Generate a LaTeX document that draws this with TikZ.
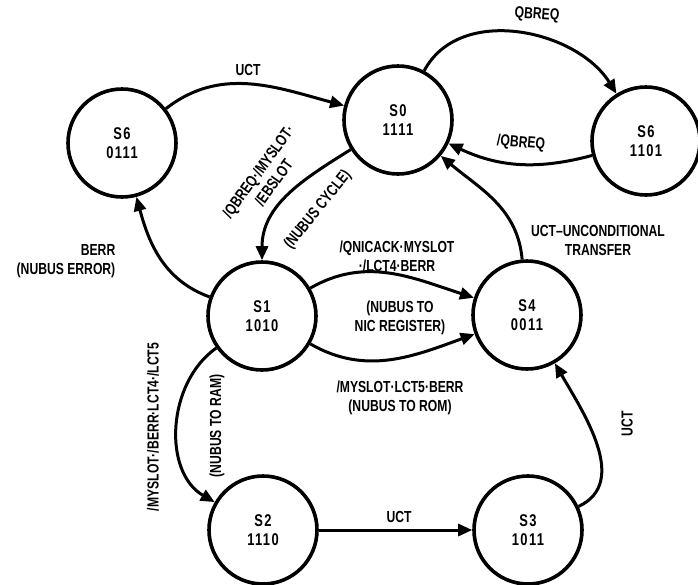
\documentclass[tikz,border=0pt]{standalone}
\usepackage{fontspec}
\setmainfont{Liberation Sans}[FakeStretch=0.76]
\newfontfamily\statefam{Liberation Sans}[FakeStretch=0.76,LetterSpace=8]
\usetikzlibrary{arrows.meta}
\newcommand{\lblfont}{\fontsize{16}{19}\selectfont\bfseries}
\newcommand{\stfont}{\statefam\fontsize{17}{19}\selectfont\bfseries}
\tikzset{
  state/.style={circle, draw, line width=3.6pt, minimum size=108pt, inner sep=0pt, align=center, font=\stfont},
  tr/.style={line width=3pt, -{Triangle[length=14pt,width=12pt]}},
  lab/.style={align=center, inner sep=0pt, font=\lblfont}
}
\begin{document}
\begin{tikzpicture}[x=1pt,y=-1pt]
\useasboundingbox (0,0) rectangle (698,584);
% states
\node[state] (s6l) at (122,143) {S6\\0111};
\node[state] (s0) at (398,120) {S0\\1111};
\node[state] (s6r) at (646,141) {S6\\1101};
\node[state] (s1) at (262,316) {S1\\1010};
\node[state] (s4) at (527,315) {S4\\0011};
\node[state] (s2) at (263,530) {S2\\1110};
\node[state] (s3) at (528,530) {S3\\1011};
% transitions
\draw[tr] (s6l) to[out=38,in=165] (s0);
\draw[tr] (s0) to[out=62,in=122] (s6r);
\draw[tr] (s6r) to[out=195,in=-25] (s0);
\draw[tr] (s0) to[out=212,in=90] (s1);
\draw[tr] (s1) to[out=160,in=-75] (s6l);
\draw[tr] (s1) to[out=30,in=162] (s4);
\draw[tr] (s1) to[out=-30,in=200] (s4);
\draw[tr] (s4) to[out=95,in=-40] (s0);
\draw[tr] (s1) to[out=215,in=150] (s2);
\draw[tr] (s2) -- (s3);
\draw[tr] (s3) to[out=25,in=-60] (s4);
% labels
\node[lab] (l1) at (248,70) {UCT};
\node[lab,rotate=-4] (l2) at (537,15) {QBREQ};
\node[lab,rotate=-5] (l3) at (521,143) {/QBREQ};
\node[lab,rotate=54] (l4) at (266,177) {/QBREQ·/MYSLOT·\\/EBSLOT};
\node[lab,rotate=51] (l5) at (318,210) {(NUBUS CYCLE)};
\node[lab,align=right] (l6) at (66,261) {BERR\\(NUBUS ERROR)};
\node[lab] (l7) at (397,256) {/QNICACK·MYSLOT\\·/LCT4·BERR};
\node[lab] (l8) at (400,318) {(NUBUS TO\\NIC REGISTER)};
\node[lab] (l9) at (400,398) {/MYSLOT·LCT5·BERR\\(NUBUS TO ROM)};
\node[lab] (l10) at (598,240) {UCT–UNCONDITIONAL\\TRANSFER};
\node[lab,rotate=90] (l11) at (153,427) {/MYSLOT·/BERR·LCT4·/LCT5};
\node[lab,rotate=90] (l12) at (217,426) {(NUBUS TO RAM)};
\node[lab] (l13) at (399,517) {UCT};
\node[lab,rotate=90] (l14) at (627,424) {UCT};
\end{tikzpicture}
\end{document}
